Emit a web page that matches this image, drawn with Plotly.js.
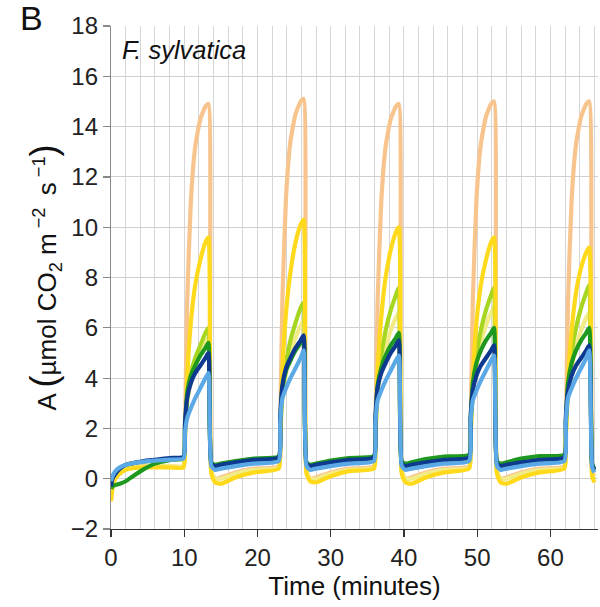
<!DOCTYPE html>
<html>
<head>
<meta charset="utf-8">
<script src="https://cdn.plot.ly/plotly-3.0.1.min.js"></script>
<style>
html,body{margin:0;padding:0;background:#fff;}
#chart{width:600px;height:607px;}
</style>
</head>
<body>
<div id="chart"></div>
<script>
// Time (minutes)
const time = [0, 0.2, 0.6, 1.2, 2, 3, 4.5, 6, 8, 9.9,
  10.1, 10.4, 10.9, 11.5, 12.2, 12.9, 13.3, 13.7, 14.2, 15, 17, 19.5, 22.9,
  23.1, 23.4, 23.9, 24.5, 25.2, 25.9, 26.3, 26.7, 27.2, 28, 30, 32.5, 35.9,
  36.1, 36.4, 36.9, 37.5, 38.2, 38.9, 39.3, 39.7, 40.2, 41, 43, 45.5, 48.9,
  49.1, 49.4, 49.9, 50.5, 51.2, 51.9, 52.3, 52.7, 53.2, 54, 56, 58.5, 61.9,
  62.1, 62.4, 62.9, 63.5, 64.2, 64.9, 65.3, 65.7, 66];

const seriesPeach = [-0.6, -0.2, 0.1, 0.3, 0.4, 0.45, 0.5, 0.5, 0.5, 0.5,
  2.0, 7.0, 11.0, 13.2, 14.3, 14.8, 14.9, 0.3, 0.0, 0.05, 0.25, 0.4, 0.5,
  2.0, 7.1, 11.2, 13.4, 14.5, 15.0, 15.1, 0.3, 0.0, 0.05, 0.25, 0.4, 0.5,
  2.0, 7.0, 11.0, 13.2, 14.3, 14.8, 14.9, 0.3, 0.0, 0.05, 0.25, 0.4, 0.5,
  2.0, 7.0, 11.1, 13.3, 14.4, 14.9, 15.0, 0.3, 0.0, 0.05, 0.25, 0.4, 0.5,
  2.0, 7.0, 11.1, 13.3, 14.4, 14.9, 15.0, 0.3, 0.1];

const seriesPaleYellow = [-0.7, -0.3, 0.05, 0.25, 0.38, 0.45, 0.48, 0.5, 0.5, 0.5,
  1.7, 3.0, 3.9, 4.5, 5.0, 5.4, 5.6, 0.3, 0.0, 0.0, 0.2, 0.35, 0.45,
  1.7, 3.2, 4.2, 5.0, 5.6, 6.1, 6.3, 0.3, 0.0, 0.0, 0.2, 0.35, 0.45,
  1.7, 3.3, 4.4, 5.2, 5.9, 6.4, 6.6, 0.3, 0.0, 0.0, 0.2, 0.35, 0.45,
  1.7, 3.4, 4.5, 5.4, 6.1, 6.6, 6.8, 0.3, 0.0, 0.0, 0.2, 0.35, 0.45,
  1.7, 3.3, 4.4, 5.2, 5.9, 6.4, 6.6, 0.2, 0.0];

const seriesYellow = [-0.9, -0.4, 0.0, 0.2, 0.35, 0.42, 0.45, 0.45, 0.45, 0.45,
  1.6, 4.0, 6.2, 7.7, 8.7, 9.4, 9.6, 0.2, -0.15, -0.2, 0.05, 0.25, 0.4,
  1.6, 4.3, 6.6, 8.2, 9.4, 10.1, 10.3, 0.2, -0.1, -0.15, 0.1, 0.3, 0.4,
  1.6, 4.2, 6.4, 8.0, 9.1, 9.8, 10.0, 0.2, -0.15, -0.2, 0.05, 0.25, 0.4,
  1.6, 4.0, 6.2, 7.7, 8.7, 9.4, 9.6, 0.2, -0.15, -0.2, 0.05, 0.25, 0.4,
  1.6, 3.9, 5.9, 7.4, 8.4, 9.0, 9.2, 0.1, -0.15];

const seriesLightGreen = [-0.5, -0.1, 0.2, 0.4, 0.55, 0.62, 0.68, 0.72, 0.75, 0.78,
  1.8, 3.2, 4.2, 4.8, 5.3, 5.8, 6.0, 0.5, 0.4, 0.45, 0.6, 0.7, 0.78,
  1.8, 3.4, 4.6, 5.5, 6.2, 6.8, 7.0, 0.5, 0.4, 0.45, 0.6, 0.7, 0.78,
  1.8, 3.6, 4.9, 5.9, 6.7, 7.3, 7.6, 0.5, 0.4, 0.45, 0.6, 0.7, 0.78,
  1.8, 3.6, 4.9, 5.9, 6.7, 7.3, 7.6, 0.5, 0.4, 0.45, 0.6, 0.7, 0.78,
  1.8, 3.6, 5.0, 6.0, 6.8, 7.4, 7.7, 0.5, 0.3];

const seriesGreen = [-0.4, -0.3, -0.25, -0.2, -0.1, 0.1, 0.38, 0.6, 0.75, 0.85,
  2.0, 3.4, 4.1, 4.5, 4.9, 5.2, 5.4, 0.65, 0.55, 0.6, 0.7, 0.8, 0.88,
  2.2, 3.6, 4.3, 4.7, 5.1, 5.4, 5.6, 0.65, 0.55, 0.6, 0.72, 0.82, 0.9,
  2.2, 3.7, 4.4, 4.9, 5.3, 5.6, 5.8, 0.7, 0.6, 0.65, 0.78, 0.88, 0.95,
  2.2, 3.8, 4.6, 5.1, 5.5, 5.8, 6.0, 0.7, 0.6, 0.65, 0.8, 0.9, 0.95,
  2.2, 3.8, 4.6, 5.1, 5.5, 5.8, 6.0, 0.6, 0.4];

const seriesDarkBlue = [-0.3, 0.0, 0.2, 0.4, 0.55, 0.62, 0.7, 0.75, 0.82, 0.88,
  2.2, 3.2, 3.8, 4.2, 4.5, 4.8, 5.0, 0.6, 0.5, 0.55, 0.65, 0.75, 0.85,
  2.4, 3.7, 4.4, 4.8, 5.2, 5.5, 5.7, 0.6, 0.5, 0.55, 0.65, 0.75, 0.85,
  2.4, 3.6, 4.2, 4.6, 5.0, 5.3, 5.5, 0.6, 0.5, 0.55, 0.65, 0.75, 0.85,
  2.4, 3.5, 4.1, 4.5, 4.8, 5.1, 5.3, 0.6, 0.5, 0.55, 0.65, 0.75, 0.85,
  2.4, 3.5, 4.1, 4.5, 4.8, 5.1, 5.3, 0.55, 0.35];

const seriesLightBlue = [-0.1, 0.1, 0.3, 0.45, 0.55, 0.62, 0.68, 0.72, 0.76, 0.8,
  1.8, 2.4, 2.8, 3.2, 3.6, 4.0, 4.2, 0.5, 0.35, 0.4, 0.5, 0.6, 0.7,
  2.2, 3.2, 3.6, 4.0, 4.4, 4.8, 5.1, 0.5, 0.35, 0.4, 0.5, 0.6, 0.7,
  2.2, 3.1, 3.5, 3.9, 4.3, 4.7, 4.9, 0.5, 0.35, 0.4, 0.5, 0.6, 0.7,
  2.2, 3.1, 3.5, 3.9, 4.3, 4.7, 4.9, 0.5, 0.35, 0.4, 0.5, 0.6, 0.7,
  2.2, 3.2, 3.6, 4.0, 4.4, 4.8, 5.1, 0.45, 0.25];

const seriesList = [
  {name: 'peach', y: seriesPeach, color: '#F8C48E'},
  {name: 'pale yellow', y: seriesPaleYellow, color: '#F2EC88'},
  {name: 'light green', y: seriesLightGreen, color: '#A6D620'},
  {name: 'yellow', y: seriesYellow, color: '#FFD91C'},
  {name: 'green', y: seriesGreen, color: '#1E981E'},
  {name: 'dark blue', y: seriesDarkBlue, color: '#0D3A8E'},
  {name: 'light blue', y: seriesLightBlue, color: '#5BA8E6'}
];

const traces = seriesList.map(s => ({
  x: time, y: s.y, type: 'scatter', mode: 'lines', name: s.name,
  line: {color: s.color, width: 4.2, shape: 'spline', smoothing: 0.5},
  hoverinfo: 'skip'
}));

const FONT = 'Arial, "Liberation Sans", sans-serif';

const layout = {
  width: 600, height: 607,
  margin: {l: 111, r: 2, t: 26, b: 78},
  paper_bgcolor: '#fff', plot_bgcolor: '#fff',
  showlegend: false,
  font: {family: FONT, color: '#222', size: 24},
  xaxis: {
    range: [0, 66.5], tickvals: [0, 10, 20, 30, 40, 50, 60],
    ticks: 'outside', ticklen: 7, tickwidth: 1.2, tickcolor: '#333',
    showline: true, linecolor: '#333', linewidth: 1.2,
    showgrid: true, gridcolor: '#d6d6d6', gridwidth: 1,
    minor: {dtick: 2, tick0: 0, showgrid: true, gridcolor: '#d6d6d6', gridwidth: 1, ticks: ''},
    zeroline: false,
    tickfont: {family: FONT, size: 24, color: '#222'},
    title: {text: 'Time (minutes)', font: {family: FONT, size: 26, color: '#111'}, standoff: 6}
  },
  yaxis: {
    range: [-2, 18], dtick: 2, tick0: 0,
    ticks: 'outside', ticklen: 7, tickwidth: 1.2, tickcolor: '#888',
    showline: true, linecolor: '#888', linewidth: 1.2,
    showgrid: true, gridcolor: '#cfcfcf', gridwidth: 1,
    zeroline: false,
    tickfont: {family: FONT, size: 24, color: '#222'},
    title: {text: 'A <span style="font-size:36px">(</span>µmol CO<sub>2</sub> m<sup> −2 </sup> s<sup> −1</sup><span style="font-size:36px">)</span>',
            font: {family: FONT, size: 26, color: '#111'}, standoff: 6}
  },
  annotations: [
    {text: 'B', xref: 'paper', yref: 'paper', x: -0.191, y: 1.015, xanchor: 'left', yanchor: 'middle',
     showarrow: false, font: {family: FONT, size: 34, color: '#111'}},
    {text: '<i>F. sylvatica</i>', xref: 'paper', yref: 'paper', x: 0.018, y: 0.952, xanchor: 'left', yanchor: 'middle',
     showarrow: false, font: {family: FONT, size: 25.5, color: '#111'}}
  ]
};

Plotly.newPlot('chart', traces, layout, {staticPlot: true, displayModeBar: false});
</script>
</body>
</html>
